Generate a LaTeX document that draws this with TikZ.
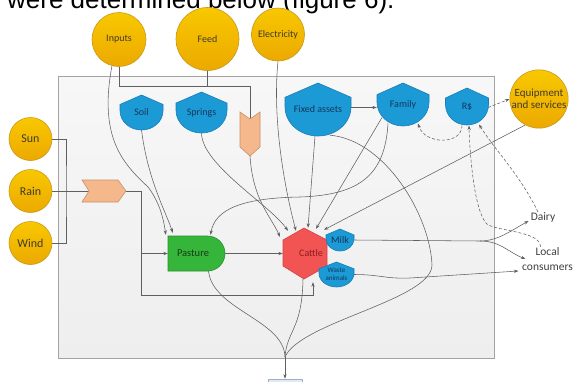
\documentclass[tikz,border=0pt]{standalone}
\usepackage{fontspec}
\setmainfont{Carlito}
\newfontfamily\capfont{Liberation Sans}
\usetikzlibrary{arrows.meta}
\pgfdeclarelayer{back}
\pgfdeclarelayer{conn}
\pgfsetlayers{back,conn,main}
\definecolor{yelA}{HTML}{F8C800}
\definecolor{yelB}{HTML}{ECA900}
\definecolor{yelD}{HTML}{C8981E}
\definecolor{bluF}{HTML}{1B9AD6}
\definecolor{bluD}{HTML}{1A7DB8}
\definecolor{grnF}{HTML}{35B63A}
\definecolor{grnD}{HTML}{2A8F30}
\definecolor{redF}{HTML}{F25353}
\definecolor{redD}{HTML}{D24545}
\definecolor{orgF}{HTML}{F5B78C}
\definecolor{orgD}{HTML}{C99068}
\definecolor{lineC}{HTML}{5F5F5F}
\definecolor{bgA}{HTML}{F7F7F7}
\definecolor{bgB}{HTML}{EEEEEE}
\definecolor{bgD}{HTML}{A3A3A3}
\definecolor{txtY}{HTML}{3F3A2A}
\definecolor{txtB}{HTML}{15375C}
\definecolor{txtG}{HTML}{173A17}
\definecolor{txtR}{HTML}{8A1F1F}
\definecolor{txtK}{HTML}{404040}
\definecolor{sinkD}{HTML}{9FB0C2}
\definecolor{sinkF}{HTML}{E2EAF2}

\tikzset{
 sunnode/.style={circle, draw=yelD, line width=0.6pt, top color=yelA, bottom color=yelB, inner sep=0pt, text=txtY, font=\fontsize{10}{11}\selectfont, align=center},
 shieldsty/.style={draw=bluD, fill=bluF, line width=0.6pt},
 shieldtxt/.style={inner sep=0pt, text=txtB, font=\fontsize{10}{11}\selectfont, align=center},
 flow/.style={draw=lineC, line width=0.55pt, -{Stealth[length=4.5pt,width=3.2pt]}},
 plain/.style={draw=lineC, line width=0.55pt},
 money/.style={flow, dash pattern=on 3pt off 2pt},
 chevsty/.style={draw=orgD, fill=orgF, line width=0.6pt},
 lbl/.style={inner sep=0pt, text=txtK, font=\fontsize{11.5}{15}\selectfont, align=center},
}

\newcommand\myshield[7]{%
 \draw[shieldsty] (#2,#3) -- ({#2+#4/2},{#3+0.27*#5}) -- ({#2+#4/2},{#3+0.45*#5})
   .. controls ({#2+#4/2},{#3+0.754*#5}) and ({#2+0.276*#4},{#3+#5}) .. (#2,{#3+#5})
   .. controls ({#2-0.276*#4},{#3+#5}) and ({#2-#4/2},{#3+0.754*#5}) .. ({#2-#4/2},{#3+0.45*#5})
   -- ({#2-#4/2},{#3+0.27*#5}) -- cycle;
 \node[shieldtxt, minimum width=#4pt, minimum height=#5pt, #6] (#1) at (#2,{#3+#5/2}) {#7};}

\begin{document}
\begin{tikzpicture}[x=1pt,y=-1pt]
\useasboundingbox (0,0) rectangle (573,381);
\begin{pgfonlayer}{back}
\fill[white] (0,0) rectangle (573,381);
\draw[draw=bgD, line width=0.8pt, top color=bgA, bottom color=bgB] (58,76) rectangle (494,358);
\end{pgfonlayer}
\begin{scope}
\clip (0,0) rectangle (573,381);
\node[anchor=base west, inner sep=0pt, font=\capfont\fontsize{26}{30}\selectfont, text=black] (caption) at (7,8) {were determined below (figure 6).};
\end{scope}

% sources
\node[sunnode, minimum size=54pt] (inputs) at (119,39.5) {Inputs};
\node[sunnode, minimum size=63pt] (feed) at (207.5,39) {Feed};
\node[sunnode, minimum size=53pt] (elec) at (278,34.5) {Electricity};
\node[sunnode, minimum size=43pt, font=\fontsize{12}{13}\selectfont] (sun) at (30.5,139) {Sun};
\node[sunnode, minimum size=43pt, font=\fontsize{12}{13}\selectfont] (rain) at (30.5,191) {Rain};
\node[sunnode, minimum size=43pt, font=\fontsize{12}{13}\selectfont] (wind) at (30.5,243) {Wind};
\node[sunnode, minimum size=58pt, font=\fontsize{11}{12.5}\selectfont] (equip) at (539,99) {Equipment\\and services};

% storages
\myshield{soil}{141.5}{95}{43}{35}{}{Soil}
\myshield{springs}{201.5}{92}{51}{41}{}{Springs}
\myshield{fixed}{318}{83}{66}{53}{}{Fixed assets}
\myshield{family}{403}{83}{52}{43}{}{Family}
\myshield{rs}{467}{88}{43}{37}{}{R\$}

% chevrons
\draw[chevsty] (240,112) -- (250,119) -- (260,112) -- (260,147) -- (250,156) -- (240,147) -- cycle;
\node[inner sep=0pt, minimum width=20pt, minimum height=44pt] (chevd) at (250,134) {};
\draw[chevsty] (82,180) -- (118,180) -- (126,191) -- (118,202) -- (82,202) -- (89,191) -- cycle;
\node[inner sep=0pt, minimum width=44pt, minimum height=22pt] (chevr) at (104,191) {};

% pasture
\draw[draw=grnD, fill=grnF, line width=0.6pt] (168,236) -- (207.5,236) .. controls (217.2,236) and (225,243.8) .. (225,253.5) .. controls (225,263.2) and (217.2,271) .. (207.5,271) -- (168,271) -- cycle;
\node[inner sep=0pt, minimum width=57pt, minimum height=35pt, text=txtG, font=\fontsize{10.5}{12}\selectfont] (pasture) at (196.5,253.5) {Pasture\hspace*{7pt}};

% cattle
\draw[draw=redD, fill=redF, line width=0.6pt] (304,228) -- (327,240) -- (327,266) -- (304,279) -- (283,266) -- (283,240) -- cycle;
\node[inner sep=0pt, minimum width=44pt, minimum height=51pt, text=txtR, font=\fontsize{10}{12}\selectfont] (cattle) at (305,253.5) {\hspace*{12pt}Cattle};
\myshield{milk}{340}{229}{28}{22}{}{Milk}
\myshield{waste}{336.5}{262}{35}{25}{font=\fontsize{7}{8.5}\selectfont}{Waste\\animals}

% sinks / labels
\node[lbl] (dairy) at (543,217) {Dairy};
\node[lbl] (local) at (547.5,259.5) {Local\\consumers};
\node[draw=sinkD, fill=sinkF, line width=0.6pt, inner sep=0pt, minimum width=34pt, minimum height=12pt] (sink) at (285,385) {};

\begin{pgfonlayer}{conn}
% sun, rain, wind
\coordinate (swj) at (66,191);
\draw[plain] (sun.east) -| (swj) |- (wind.east);
\draw[plain] (rain.east) -- (chevr.center);
% right chevron outputs
\coordinate (cr1) at (141,191);
\coordinate (cr2) at (141,295);
\draw[flow] (chevr.center) -- (cr1) -- (cr2) -| ([shift={(8,3)}]cattle.south);
\draw[flow] (cr1 |- pasture.west) -- (pasture.west);
% inputs and feed to down chevron
\coordinate (jn) at (250,86);
\draw[plain] (inputs.south) |- (jn) -- (chevd.center);
\draw[plain] (feed.south) -- (feed.south |- jn);
% into pasture
\draw[flow] (inputs.-105) .. controls (98,140) and (125,165) .. (148,187) .. controls (158,200) and (163,215) .. ([shift={(-2,-1)}]pasture.north west);
\draw[flow] (soil.south) .. controls (148,180) and (165,210) .. ([shift={(5,-3)}]pasture.north west);
\draw[flow] ([shift={(-15,19)}]family.center) .. controls (385,175) and (360,195) .. (300,197) .. controls (240,198) and (215,210) .. ([shift={(14,-1)}]pasture.north);
% into cattle
\draw[flow] (springs.south) .. controls (202,165) and (270,205) .. ([shift={(-17,3)}]cattle.north);
\draw[flow] (chevd.south) .. controls (253,200) and (270,215) .. ([shift={(-25,9)}]cattle.north);
\draw[flow] (elec.south) .. controls (272,120) and (285,190) .. ([shift={(-9,3)}]cattle.north);
\draw[flow] ([xshift=-3pt]fixed.south) -- ([shift={(3,0)}]cattle.north);
\draw[flow] ([shift={(-21,13)}]family.center) -- ([shift={(11,1)}]cattle.north);
\draw[flow] (equip.-118) -- ([shift={(19,2)}]cattle.north);
\draw[flow] (pasture.east) -- (cattle.west);
% fixed assets to family
\draw[flow] ([shift={(0,-2)}]fixed.east) -- ([shift={(0,3)}]family.west);
% outflows to bottom
\coordinate (jo) at (285,357);
\draw[plain] ([shift={(12,-1)}]fixed.south) .. controls (385,140) and (430,215) .. (432,265) .. controls (432,300) and (300,322) .. (jo);
\draw[plain] ([shift={(12,0)}]pasture.south) .. controls (213,310) and (284,320) .. (jo);
\draw[plain] ([shift={(-2,0)}]cattle.south) .. controls (302,330) and (287,330) .. (jo);
\draw[flow] (jo) -- (sink.north);
% milk and waste animals
\draw[plain] (milk.east) -- ++(126,1) coordinate (mj);
\draw[flow] (mj) .. controls (498,241) and (512,230) .. ([shift={(-2,4)}]dairy.west);
\draw[flow] (mj) .. controls (500,241) and (508,252) .. ([shift={(3.5,-0.5)}]local.west);
\draw[flow] (waste.east) .. controls (380,274.5) and (385,279) .. (410,278) -- ([shift={(-3.5,11.5)}]local.west);
% money flows
\draw[money] ([shift={(21,1)}]rs.center) -- (equip.west);
\draw[money] ([shift={(-5,19)}]rs.center) .. controls (462,145) and (425,145) .. ([shift={(15,19)}]family.center);
\draw[money] ([xshift=-5pt]dairy.north) .. controls (520,175) and (495,150) .. ([shift={(12,18)}]rs.center);
\draw[money] ([shift={(-7,-1)}]local.north) .. controls (540,232) and (505,232) .. (488,225) .. controls (475,215) and (470,160) .. ([shift={(2,19)}]rs.center);
\end{pgfonlayer}
\end{tikzpicture}
\end{document}
